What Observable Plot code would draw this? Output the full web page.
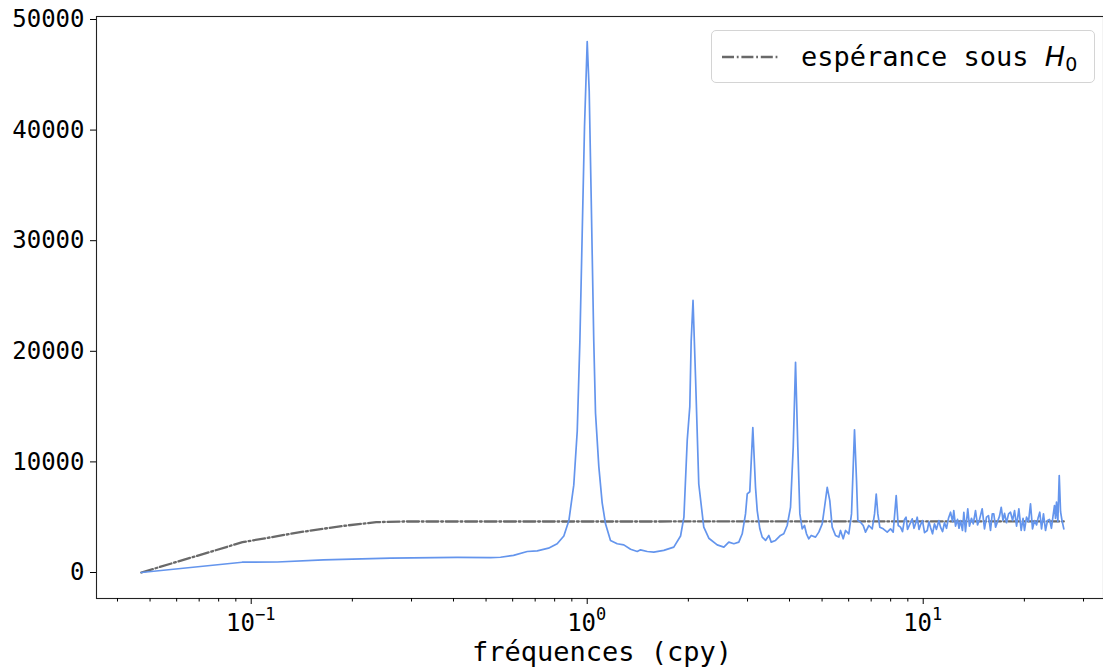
<!DOCTYPE html>
<html><head><meta charset="utf-8">
<script src="https://cdn.jsdelivr.net/npm/d3@7"></script>
<script src="https://cdn.jsdelivr.net/npm/@observablehq/plot@0.6"></script>
<style>
body{margin:0;background:#fff;}
#wrap{position:relative;width:1103px;height:668px;overflow:hidden;background:#fff;}
#legend{position:absolute;left:711px;top:30px;width:384px;height:53px;box-sizing:border-box;border:1px solid #d4d4d4;border-radius:5px;background:rgba(255,255,255,0.8);font-family:'DejaVu Sans Mono';font-size:27px;color:#000;}
#legend .lab{position:absolute;left:89px;top:0;line-height:51px;white-space:nowrap;}
#legend i{font-family:'DejaVu Sans';}
#legend sub{font-family:'DejaVu Sans';font-size:19px;vertical-align:-5px;line-height:0;}
</style></head><body><div id="wrap"></div>
<script>
// spectre (fréquence en cpy, puissance)
const freqLow   = [0.0471, 0.094, 0.1195, 0.1641, 0.2598, 0.4103, 0.5157, 0.552, 0.6035, 0.663,
                   0.7099, 0.767, 0.814, 0.852, 0.882, 0.912, 0.934, 0.951, 0.966, 0.9817];
const powerLow  = [0, 930, 950, 1150, 1300, 1370, 1350, 1380, 1550, 1900,
                   1950, 2200, 2600, 3300, 4700, 7900, 12800, 20900, 30500, 40300];
const freqP1    = [1.0, 1.0138, 1.0278, 1.046, 1.0586, 1.0827, 1.108, 1.1336, 1.173, 1.228,
                   1.285, 1.346, 1.409, 1.441, 1.509, 1.578, 1.69, 1.81, 1.896, 1.94];
const powerP1   = [48000, 43500, 33800, 20900, 14400, 9600, 6300, 4400, 2900, 2600,
                   2500, 2100, 1900, 2050, 1900, 1850, 2000, 2300, 3300, 5000];
const freqP2    = [1.985, 2.02, 2.039, 2.065, 2.101, 2.148, 2.223, 2.301, 2.437, 2.551,
                   2.639, 2.732, 2.826, 2.893, 2.959, 2.994, 3.047, 3.111, 3.169, 3.206,
                   3.264, 3.318, 3.394, 3.472, 3.529, 3.634, 3.76, 3.846, 3.937];
const powerP2   = [12000, 15000, 20900, 24600, 17600, 8000, 4100, 3100, 2500, 2300,
                   2750, 2600, 2750, 3500, 5300, 7100, 7300, 13100, 7700, 5600,
                   3950, 3200, 2900, 3350, 2750, 2900, 3350, 3500, 4250];
const freqP4    = [4.028, 4.103, 4.169, 4.235, 4.294, 4.364, 4.433, 4.494, 4.565, 4.642,
                   4.781, 4.89, 5.005, 5.085, 5.18, 5.272, 5.359, 5.483, 5.608, 5.674,
                   5.779, 5.872, 6.006, 6.118, 6.245, 6.332, 6.389, 6.508, 6.629, 6.735,
                   6.889, 7.051, 7.164, 7.247, 7.327, 7.427, 7.603, 7.814, 7.993, 8.141,
                   8.31, 8.425, 8.559];
const powerP4   = [5900, 11300, 19000, 11300, 5300, 3950, 4250, 3500, 3050, 3350,
                   3200, 3650, 4400, 5900, 7700, 6500, 4100, 3350, 3200, 3800,
                   3050, 3800, 3500, 5300, 12900, 8300, 4700, 4550, 4250, 3650,
                   4250, 3950, 5300, 7100, 5300, 4100, 3950, 3650, 3950, 3650,
                   6950, 4250, 4100];
const freqHigh  = [8.678, 8.797, 8.889, 8.981, 9.105, 9.276, 9.389, 9.487, 9.597, 9.716,
                   9.817, 9.952, 10.09, 10.28, 10.40, 10.51, 10.66, 10.80, 10.95, 11.13,
                   11.26, 11.42, 11.57, 11.73, 11.89, 12.06, 12.23, 12.33, 12.48, 12.65,
                   12.78, 12.91, 13.09, 13.21, 13.36, 13.57, 13.73, 13.92, 14.09, 14.31,
                   14.51, 14.71, 14.98, 15.22, 15.43, 15.64, 15.86, 16.05, 16.22, 16.42,
                   16.64, 16.87, 17.07, 17.28, 17.46, 17.70, 17.95, 18.19, 18.45, 18.70,
                   18.96, 19.26, 19.57, 19.82, 20.02, 20.30, 20.58, 20.86, 21.15, 21.44,
                   21.74, 21.96, 22.23, 22.50, 22.80, 23.12, 23.44, 23.76, 24.08, 24.34,
                   24.59, 24.76, 24.93, 25.16, 25.40, 25.63, 25.89, 26.21];
const powerHigh = [3700, 4800, 5000, 3900, 4300, 4850, 4000, 4400, 5000, 3900,
                   4300, 4700, 3600, 3800, 4600, 4100, 3500, 4400, 3900, 4700,
                   4100, 3700, 4500, 4000, 4900, 5450, 4600, 5600, 4200, 4800,
                   4000, 4700, 3800, 5450, 3700, 5760, 4200, 4900, 4400, 5600,
                   4300, 4800, 5760, 3950, 5000, 5150, 3800, 5310, 5300, 4100,
                   4600, 5100, 5900, 4700, 5350, 4500, 5300, 5450, 4700, 5600,
                   4200, 5760, 3800, 4900, 3800, 5000, 4600, 6210, 3950, 4700,
                   4300, 4900, 5450, 3950, 5300, 3800, 4700, 4800, 4000, 5100,
                   6060, 4900, 6360, 4600, 8770, 5500, 4700, 3950];
// espérance sous H0
const h0Freq  = [0.0471, 0.0942, 0.1413, 0.1884, 0.2355, 0.2826, 26.21];
const h0Power = [0, 2740, 3670, 4220, 4550, 4610, 4620];
// axes
const yTicks = [0, 10000, 20000, 30000, 40000, 50000];
const xMajor = [0.1, 1, 10];
const xExp   = ["\u22121", "0", "1"];
const xMinor = [0.04, 0.05, 0.06, 0.07, 0.08, 0.09, 0.2, 0.3, 0.4, 0.5, 0.6, 0.7, 0.8, 0.9,
                2, 3, 4, 5, 6, 7, 8, 9, 20, 30];
const xLabel = "fréquences (cpy)";
const legendLabel = "espérance sous ";

const freq  = [].concat(freqLow, freqP1, freqP2, freqP4, freqHigh);
const power = [].concat(powerLow, powerP1, powerP2, powerP4, powerHigh);
const spec = freq.map((f, i) => ({f, p: power[i]}));
const h0 = h0Freq.map((f, i) => ({f, p: h0Power[i]}));
const dash = "12,2.8,1.8,2.8";

const plot = Plot.plot({
  width: 1103, height: 668,
  marginLeft: 96, marginRight: 0, marginTop: 16, marginBottom: 70,
  style: {fontFamily: "'DejaVu Sans Mono'", fontSize: "24px", color: "#000", background: "#fff", overflow: "visible"},
  x: {type: "log", domain: [0.03464, 34.4]},
  y: {domain: [-2350, 50270]},
  marks: [
    Plot.line(h0, {x: "f", y: "p", stroke: "#696969", strokeWidth: 2.3, strokeDasharray: dash}),
    Plot.line(spec, {x: "f", y: "p", stroke: "#6495ED", strokeWidth: 1.7}),
    Plot.frame({stroke: "#222", strokeWidth: 1.1}),
    Plot.axisY({ticks: yTicks, tickSize: 6, tickPadding: 6, tickFormat: d => String(d), label: null}),
    Plot.axisX({ticks: xMajor, tickSize: 6, tickFormat: () => "", label: null}),
    Plot.axisX({ticks: xMinor, tickSize: 3.5, tickFormat: () => "", label: null})
  ]
});

const wrap = document.getElementById("wrap");
wrap.appendChild(plot);

const sx = plot.scale("x");
const svg = d3.select(plot);
const g = svg.append("g").attr("font-family", "'DejaVu Sans Mono'").attr("fill", "#000");
xMajor.forEach((t, i) => {
  const tx = g.append("text").attr("x", sx.apply(t)).attr("y", 631)
    .attr("text-anchor", "middle").attr("font-size", 24);
  tx.append("tspan").text("10");
  tx.append("tspan").attr("dy", -11).attr("font-size", 17).text(xExp[i]);
});
g.append("text").attr("x", 602).attr("y", 661).attr("text-anchor", "middle")
  .attr("font-size", 27).text(xLabel);

// légende
const leg = document.createElement("div");
leg.id = "legend";
leg.innerHTML = '<svg width="80" height="51" style="position:absolute;left:0;top:0">' +
  '<line x1="10" y1="26" x2="67" y2="26" stroke="#696969" stroke-width="2.3" stroke-dasharray="' + dash + '"/></svg>' +
  '<span class="lab"></span>';
leg.querySelector(".lab").innerHTML = legendLabel + '<i>H</i><sub>0</sub>';
wrap.appendChild(leg);
</script></body></html>
